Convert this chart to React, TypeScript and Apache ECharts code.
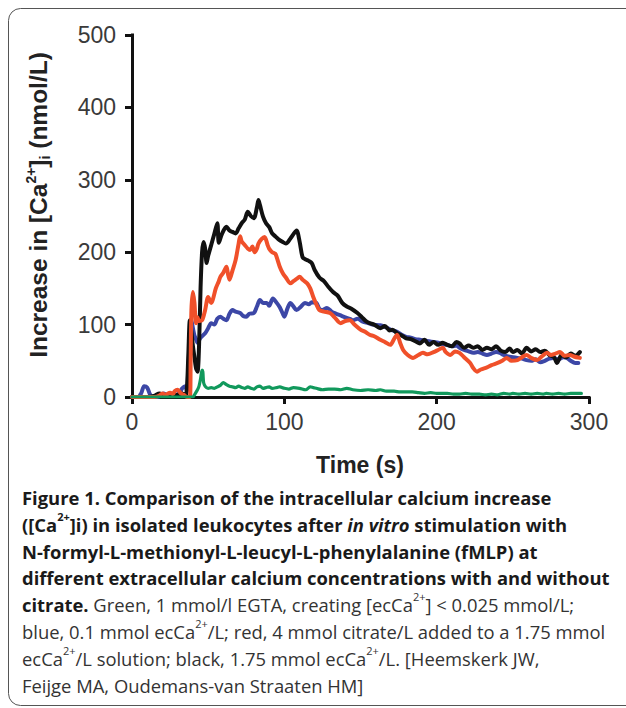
import React, { useEffect, useRef } from "react";
import * as echarts from "echarts";

// ---- data ----
const xTicks = [0, 100, 200, 300];
const yTicks = [0, 100, 200, 300, 400, 500];

const blackT = [0,5,10,15,18,20,22,25,30,33,35,36,37,38,39,40,41,42,43,44,45,46,47,48,49,50,52,54,56,57,59,62,64,66,68,70,72,74,76,78,80,82,83,84,86,88,90,92,94,96,99,101,104,106,108,110,112,114,116,118,120,123,126,129,132,135,138,141,144,148,151,154,156,159,163,166,169,171,174,177,180,183,186,189,192,195,198,201,204,207,210,213,215,218,221,224,227,230,233,236,239,242,245,248,250,253,256,259,262,265,268,271,274,277,279,282,285,288,291,294];
const blackV = [0,0,0,2,5,3,0,2,3,5,2,10,60,106,90,70,55,40,35,70,150,200,214,205,185,195,210,225,240,213,225,235,230,228,226,233,240,245,256,250,247,262,272,265,249,240,235,226,222,218,214,212,219,225,230,215,193,190,188,185,175,165,160,152,145,140,130,125,122,116,110,104,102,100,95,98,92,93,88,85,81,80,77,74,79,72,76,72,75,72,70,76,74,68,71,68,70,65,68,66,70,64,62,67,62,65,60,68,63,66,62,64,58,55,47,58,55,60,57,62];

const redT = [0,15,18,20,22,25,27,28,30,32,34,36,38,38.5,39,40,41,42,43,44,46,48,50,52,53,55,57,58,60,62,63,64,66,68,70,71,72,74,76,77.5,79,80.5,82,83,85,87,89,90,92,94,95,97,99,101,104,106,108,110,112,115,117,119,121,123,126,130,133,137,140,143,146,150,153,156,159,163,166,169.5,172,174,176,178,181,184.5,188,191,194,198,201,204,206,209,212,215,218,222,224,226.5,229,233,236,240,243,246,249,253,256,259,262,266,269,272.5,275,278,281,284,287.5,290,294];
const redV = [0,0,2,5,3,6,4,8,10,5,3,0,0,50,120,145,130,102,110,105,106,120,138,130,134,150,160,166,172,180,170,162,175,189,212,222,215,210,205,203,208,200,205,212,218,221,210,205,200,198,193,180,171,165,157,160,163,166,162,157,150,138,128,120,118,116,110,102,105,106,100,93,90,86,84,79,76,72,80,86,75,65,58,54,58,61,59,62,65,68,62,58,63,61,55,47,40,35,38,41,44,47,50,54,50,51,55,58,54,51,56,61,58,60,62,57,58,56,54];

const blueT = [0,4,6,8,10,12,14,17,19,21,23,25,27,29,31,33,35,36,37,38,39,40,41,42,43,45,48,50,52,54,56,58,60,62,64,66,68,71,73,75,77,80,82,84,86,88.5,90,92.5,95,97,99,100,102,104,106,108,111,113.5,116,118,121,123,125,128,131,134,136.5,140,143,145,148,151.5,155,158,163,166,168,171,174,177,180,183,186,189,192,195,198,201,204,207,210,213,215,218,221,224,227,230,233,236,239,241.5,244,247,250,253,256,259,262,265,268,271,274,276.5,280,283,285.5,288,291,293];
const blueV = [0,0,5,15,13,3,0,0,3,5,2,3,5,3,5,12,15,8,40,79,106,95,85,80,75,82,88,95,102,100,108,111,108,106,115,120,118,116,112,111,115,116,125,134,130,130,126,136,130,124,115,111,122,130,125,120,125,130,128,131,130,122,120,123,118,115,113,110,108,106,108,104,102,100,99,97,95,92,90,86,83,82,80,79,78,77,76,75,73,72,70,71,68,65,63,61,62,60,58,60,62,61,58,56,55,54,53,51,50,52,48,50,53,54,52,55,54,50,47,47];

const greenT = [0,10,20,30,38,40,41,43,44,45,46,46.5,47,48,50,52,54,56,58,60,62,64,66,68,70,72,74,76,78,80,82,84,86,88,90,92,95,97,100,103,106,110,114,117,119,121,125,129,133,137,141,145,150,155,160,163,167,172,176,180,184,188,192,196,200,204,207,211,215,219,223,228,232,236,240,244,248,250,254,258,262,266,270,272,276,280,284,288,292,295];
const greenV = [0,0,0,0,0,0,3,10,15,25,37,35,20,15,12,13,12,14,16,20,17,15,14,13,15,13,12,14,12,11,14,15,12,13,14,12,13,14,12,11,13,12,10,14,13,12,10,11,11,10,12,10,9,10,9,10,8,8,7,7,7,6,5,6,5,5,5,4,4,5,4,4,3,4,3,5,4,5,4,5,4,5,4,5,4,5,4,5,5,5];

const seriesNames = ["blue", "black", "red", "green"];
const seriesColors = ["#3c47a6", "#111111", "#f0502a", "#11995c"];

const captionLines = [
  "{b|Figure 1. Comparison of the intracellular calcium increase}",
  "{b|([Ca}{bs|2+}{b|]i) in isolated leukocytes after }{bi|in vitro}{b| stimulation with}",
  "{b|N-formyl-L-methionyl-L-leucyl-L-phenylalanine (fMLP) at}",
  "{b|different extracellular calcium concentrations with and without}",
  "{b|citrate.}{r| Green, 1 mmol/l EGTA, creating [ecCa}{rs|2+}{r|] < 0.025 mmol/L;}",
  "{r|blue, 0.1 mmol ecCa}{rs|2+}{r|/L; red, 4 mmol citrate/L added to a 1.75 mmol}",
  "{r|ecCa}{rs|2+}{r|/L solution; black, 1.75 mmol ecCa}{rs|2+}{r|/L. [Heemskerk JW,}",
  "{r|Feijge MA, Oudemans-van Straaten HM]}",
];

const zip = (t: number[], v: number[]) => t.map((x, i) => [x, v[i]]);

export default function App() {
  const ref = useRef<HTMLDivElement>(null);
  useEffect(() => {
    if (!ref.current) return;
    const chart = echarts.init(ref.current, null, { renderer: "svg" });
    const axisFont = "'Liberation Sans', Arial, sans-serif";
    const capFont = "'Open Sans', sans-serif";
    const capSize = 18.4;
    const lh = 26.8;
    const dataSets = [zip(blueT, blueV), zip(blackT, blackV), zip(redT, redV), zip(greenT, greenV)];
    const axisCommon = {
      axisLine: { show: true, onZero: false, lineStyle: { color: "#111", width: 3, cap: "square" } },
      axisTick: { show: true, length: 7, lineStyle: { color: "#111", width: 3 } },
      splitLine: { show: false },
      axisLabel: { fontSize: 23, color: "#3a3a3a", fontFamily: axisFont },
    };
    chart.setOption({
      animation: false,
      backgroundColor: "#ffffff",
      grid: { left: 132, right: 37, top: 35, bottom: 311, containLabel: false },
      xAxis: {
        type: "value", min: xTicks[0], max: xTicks[xTicks.length - 1], interval: 100,
        ...axisCommon,
        axisLabel: { ...axisCommon.axisLabel, margin: 13 },
      },
      yAxis: {
        type: "value", min: yTicks[0], max: yTicks[yTicks.length - 1], interval: 100,
        ...axisCommon,
        axisLabel: { ...axisCommon.axisLabel, margin: 16 },
      },
      series: seriesNames.map((n, i) => ({
        name: n,
        type: "line",
        data: dataSets[i],
        showSymbol: false,
        smooth: 0.3,
        z: i + 2,
        lineStyle: { color: seriesColors[i], width: n === "green" ? 3.2 : 4, cap: "round", join: "round" },
      })),
      graphic: [
        {
          type: "rect",
          shape: { x: 8.5, y: 8.5, width: 630, height: 697, r: 12 },
          style: { fill: "none", stroke: "#555", lineWidth: 1 },
          silent: true,
          z: -10,
        },
        {
          type: "text",
          x: 38, y: 205, rotation: Math.PI / 2,
          style: {
            text: "{b|Increase in [Ca}{s|2+}{b|]}{sub|i}{b| (nmol/L)}",
            align: "center", verticalAlign: "middle",
            rich: {
              b: { fontSize: 24.5, fontWeight: "bold", fontFamily: axisFont, fill: "#222", lineHeight: 28 },
              s: { fontSize: 14, fontWeight: "bold", fontFamily: axisFont, fill: "#222", lineHeight: 14, verticalAlign: "top" },
              sub: { fontSize: 14, fontWeight: "bold", fontFamily: axisFont, fill: "#222", lineHeight: 14, verticalAlign: "bottom" },
            },
          },
        },
        {
          type: "text",
          x: 360, y: 465,
          style: {
            text: "Time (s)", align: "center", verticalAlign: "middle",
            fontSize: 23, fontWeight: "bold", fontFamily: axisFont, fill: "#222",
          },
        },
        {
          type: "text",
          x: 22, y: 484,
          style: {
            text: captionLines.join("\n"),
            align: "left", verticalAlign: "top",
            rich: {
              b: { fontSize: capSize, fontWeight: "bold", fontFamily: capFont, fill: "#1a1a1a", lineHeight: lh },
              bi: { fontSize: capSize, fontWeight: "bold", fontStyle: "italic", fontFamily: capFont, fill: "#1a1a1a", lineHeight: lh },
              bs: { fontSize: 11, fontWeight: "bold", fontFamily: capFont, fill: "#1a1a1a", lineHeight: 21, verticalAlign: "top" },
              r: { fontSize: capSize, fontFamily: capFont, fill: "#333", lineHeight: lh },
              rs: { fontSize: 11, fontFamily: capFont, fill: "#333", lineHeight: 21, verticalAlign: "top" },
            },
          },
        },
      ],
    });
    return () => chart.dispose();
  }, []);
  return <div ref={ref} style={{ position: "fixed", left: 0, top: 0, width: 626, height: 708 }} />;
}
